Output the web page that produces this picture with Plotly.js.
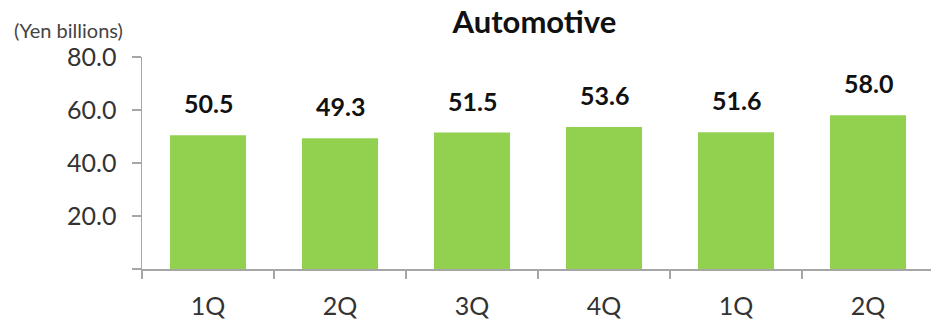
<!DOCTYPE html>
<html><head><meta charset="utf-8">
<script src="https://cdn.plot.ly/plotly-3.0.1.min.js"></script>
<style>html,body{margin:0;padding:0;background:#fff;}#chart{width:931px;height:319px;}</style>
</head><body><div id="chart"></div>
<script>
var categories = ["1Q","2Q","3Q","4Q","1Q","2Q"];
var values = [50.5, 49.3, 51.5, 53.6, 51.6, 58.0];
var yTickVals = [0, 20, 40, 60, 80];
var yTickText = ["", "20.0", "40.0", "60.0", "80.0"];

var xs = categories.map(function(_, i){ return i; });
var FONT = "Lato, 'Open Sans', sans-serif";

var trace = {
  type: "bar",
  x: xs,
  y: values,
  width: 0.576,
  marker: {color: "#92D050"},
  hoverinfo: "none"
};

var annotations = values.map(function(v, i){
  return {x: i, y: v, xref: "x", yref: "y", text: v.toFixed(1), showarrow: false,
    yanchor: "bottom", yshift: 15, font: {family: FONT, size: 25, color: "#111", weight: "bold"}};
});
annotations.push({x: (12 - 142) / 789, y: 1 + (57 - 30) / 212, xref: "paper", yref: "paper", text: "(Yen billions)", showarrow: false,
  xanchor: "left", yanchor: "middle", font: {family: FONT, size: 20, color: "#444"}});

var layout = {
  width: 931, height: 319,
  margin: {l: 142, r: 0, t: 57, b: 50, pad: 0},
  paper_bgcolor: "#fff", plot_bgcolor: "#fff",
  showlegend: false,
  title: {text: "Automotive", x: 0.574, xanchor: "center", y: 0.93, yanchor: "middle",
    font: {family: FONT, size: 31, color: "#111", weight: "bold"}},
  xaxis: {
    range: [-0.5, 5.477], showgrid: false, zeroline: false,
    showline: true, linecolor: "#a6a6a6", linewidth: 1.5,
    tickmode: "array", tickvals: xs, ticktext: categories, ticks: "",
    ticklabelstandoff: 14,
    tickfont: {family: FONT, size: 25, color: "#333"},
    minor: {tickmode: "linear", tick0: -0.5, dtick: 1, ticks: "outside", ticklen: 8, tickcolor: "#a6a6a6", tickwidth: 1.5, showgrid: false},
    fixedrange: true
  },
  yaxis: {
    range: [0, 80], showgrid: false, zeroline: false,
    showline: true, linecolor: "#a6a6a6", linewidth: 1.5,
    tickmode: "array", tickvals: yTickVals, ticktext: yTickText,
    ticks: "outside", ticklen: 9, tickcolor: "#a6a6a6", tickwidth: 1.5,
    ticklabelstandoff: 10,
    tickfont: {family: FONT, size: 25, color: "#333"},
    fixedrange: true
  },
  annotations: annotations
};

Plotly.newPlot("chart", [trace], layout, {displayModeBar: false, staticPlot: true});
</script></body></html>
